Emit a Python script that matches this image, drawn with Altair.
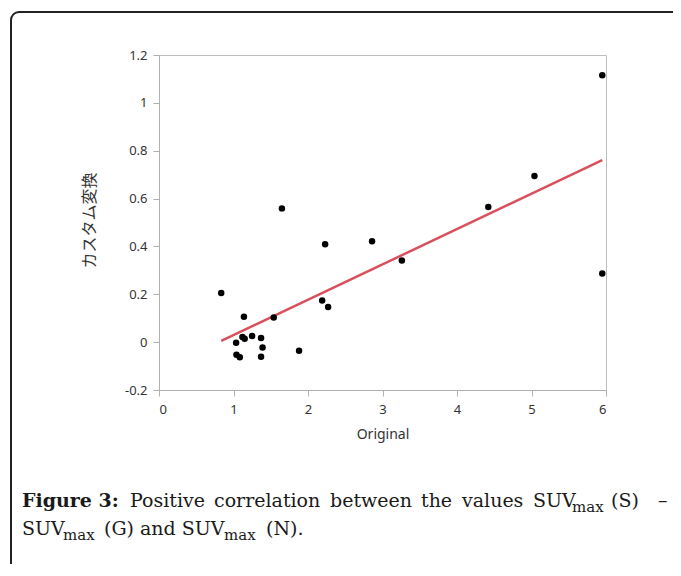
import altair as alt
import pandas as pd

# ---- data ----
x_original = [0.835, 1.14, 1.54, 1.12, 1.15, 1.25, 1.37, 1.035, 1.39, 1.04, 1.085,
              1.37, 1.88, 2.19, 2.27, 1.65, 2.23, 2.86, 3.26, 4.42, 5.04, 5.95, 5.95]
y_custom = [0.205, 0.106, 0.103, 0.022, 0.014, 0.026, 0.017, -0.003, -0.022, -0.053, -0.063,
            -0.061, -0.036, 0.174, 0.147, 0.559, 0.409, 0.422, 0.341, 0.565, 0.694, 1.115, 0.287]
x_ticks = [0, 1, 2, 3, 4, 5, 6]
y_ticks = [-0.2, 0, 0.2, 0.4, 0.6, 0.8, 1.0, 1.2]

x_title = "Original"
y_title = "カスタム変換"

caption_line1 = ["Figure 3:", "Positive", "correlation", "between", "the", "values",
                 "SUV", "max", "(S)", "–"]
caption_line2 = ["SUV", "max", "(G) and SUV", "max", "(N)."]

df = pd.DataFrame({"Original": x_original, "Custom": y_custom})

W, H = 447, 335
OX, OY = 159, 55  # page position of plot origin
TOTAL_W, TOTAL_H = 665, 556

base = alt.Chart(df)

x_enc = alt.X("Original:Q",
              scale=alt.Scale(domain=[0, 6], nice=False, zero=False),
              axis=alt.Axis(values=x_ticks, title=x_title, titleY=44,
                            titleBaseline="middle", labelPadding=7))
y_enc = alt.Y("Custom:Q",
              scale=alt.Scale(domain=[-0.2, 1.2], nice=False, zero=False),
              axis=alt.Axis(values=y_ticks, title=y_title, labelExpr="'' + datum.value",
                            titleX=-70, titleY=165, titleAngle=270, titleAlign="center",
                            titleBaseline="middle", titleFont="Noto Sans CJK JP",
                            titleFontSize=16, labelPadding=6))

fit = base.transform_regression("Original", "Custom").mark_line(
    color="#d9505c", strokeWidth=2.5).encode(x=x_enc, y=y_enc)

points = base.mark_circle(size=42, color="#000000", opacity=1).encode(x=x_enc, y=y_enc)

one = pd.DataFrame({"k": [0]})
card = alt.Chart(one).mark_rect(stroke="#222222", strokeWidth=2, cornerRadius=8,
                                fillOpacity=0).encode(
    x=alt.value(11 - OX), x2=alt.value(720 - OX),
    y=alt.value(12 - OY), y2=alt.value(620 - OY))


def txt(s, px, py, size=19, weight="normal"):
    return alt.Chart(one).mark_text(font="DejaVu Serif", fontSize=size, fontWeight=weight,
                                    align="left", baseline="alphabetic",
                                    color="#1a1a1a").encode(
        x=alt.value(px - OX), y=alt.value(py - OY), text=alt.value(s))


B1, B2 = 507, 535
l1_x = [22, 130, 214, 330, 421, 462, 533, 572, 611, 658]
layers = []
for s, px in zip(caption_line1, l1_x):
    if s == "max":
        layers.append(txt(s, px, B1 + 5, size=15))
    elif s.startswith("Figure"):
        layers.append(txt(s, px, B1, weight="bold"))
    else:
        layers.append(txt(s, px, B1))
l2_x = [22, 63, 104, 224, 266]
for s, px in zip(caption_line2, l2_x):
    if s == "max":
        layers.append(txt(s, px, B2 + 5, size=15))
    else:
        layers.append(txt(s, px, B2))

chart = alt.layer(card, fit, points, *layers).properties(
    width=W, height=H,
    autosize=alt.AutoSizeParams(type="none"),
    padding={"left": OX - 8, "top": OY - 8, "right": TOTAL_W - (OX - 8) - W,
             "bottom": TOTAL_H - (OY - 8) - H},
    background="white",
).configure_view(stroke="#bdbdbd", strokeWidth=1).configure_axis(
    grid=False, domainColor="#b0b0b0", tickColor="#b0b0b0", tickSize=6,
    labelFont="Noto Sans", labelFontSize=13, labelColor="#333333",
    titleFont="Noto Sans", titleFontSize=14, titleFontWeight="normal", titleColor="#333333")

chart.save("out.html", embed_options={"renderer": "svg", "actions": False})
